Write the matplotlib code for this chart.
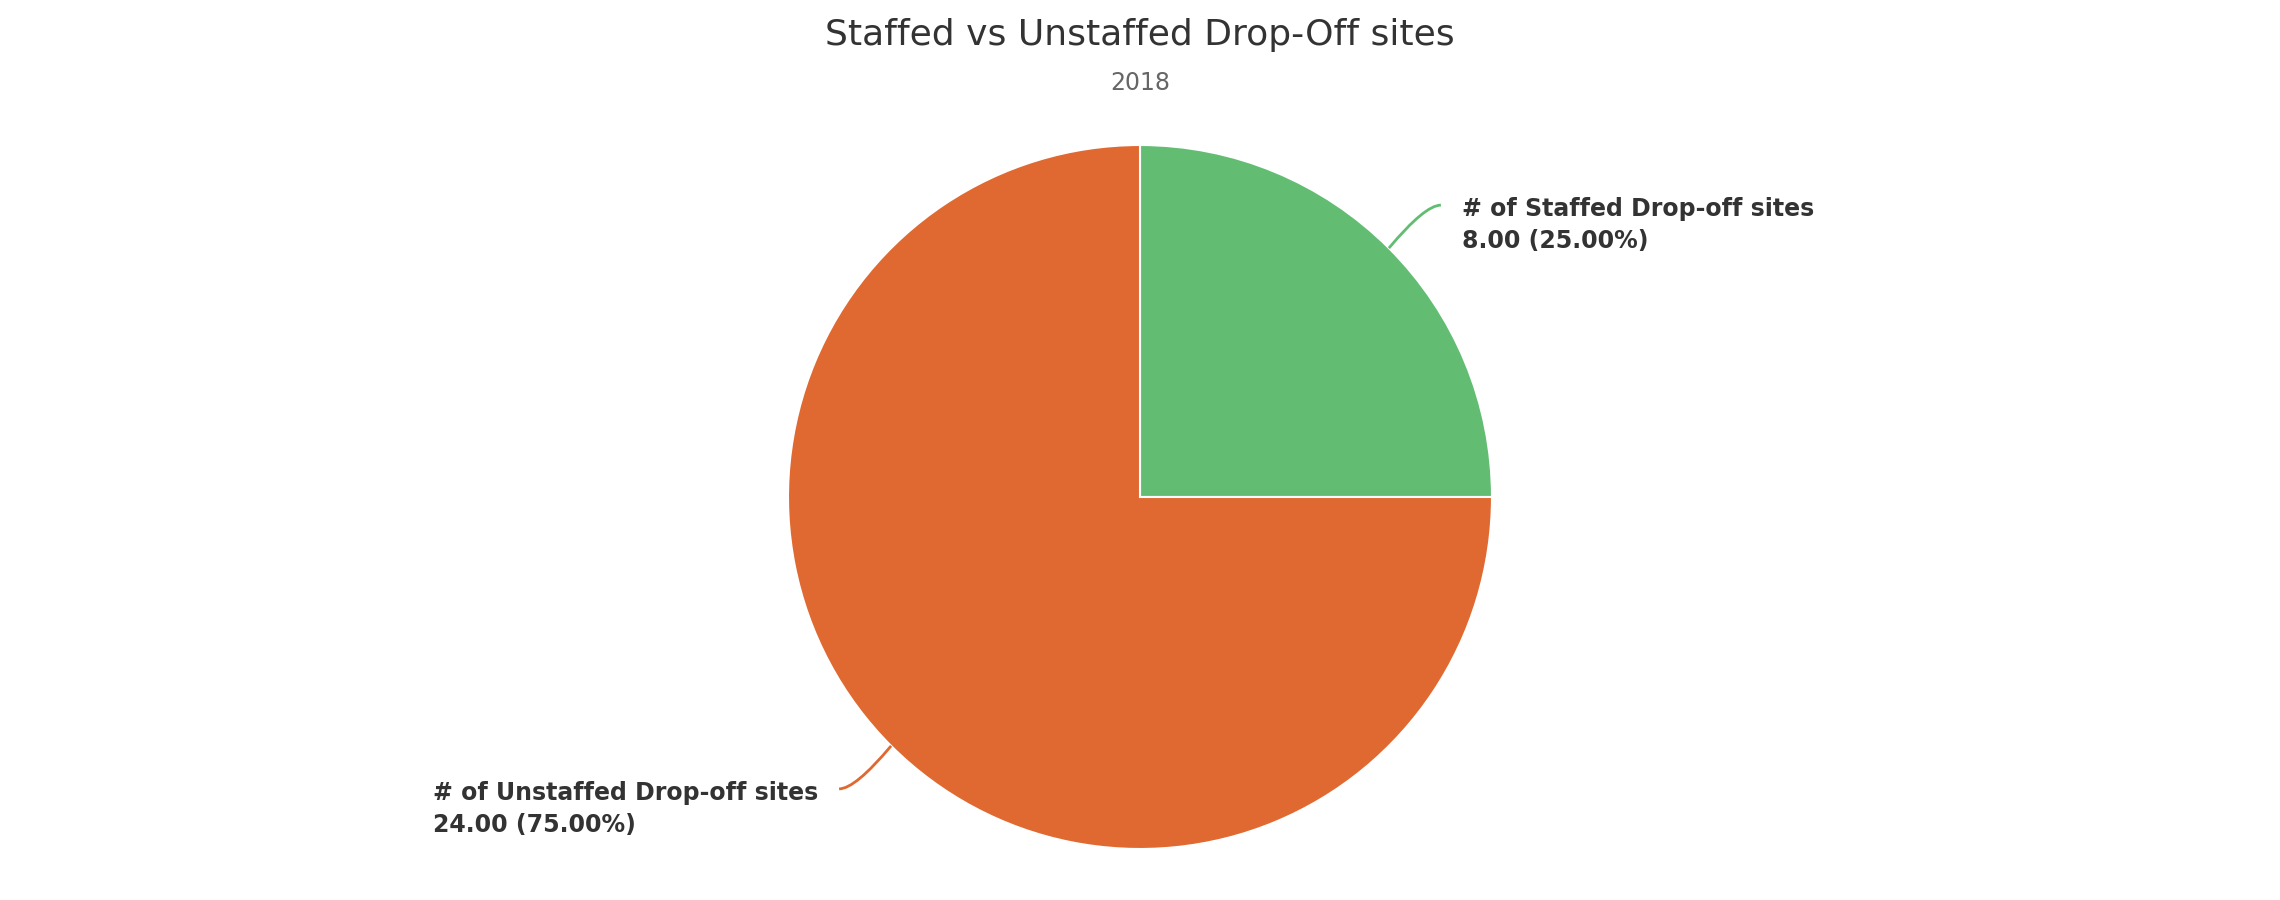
import numpy as np
import matplotlib
matplotlib.use('Agg')
import matplotlib.pyplot as plt
from matplotlib.path import Path
from matplotlib.patches import PathPatch

# chart data
labels = ['# of Staffed Drop-off sites', '# of Unstaffed Drop-off sites']
values = [8, 24]
colors = ['#62BD73', '#E06931']
title = 'Staffed vs Unstaffed Drop-Off sites'
subtitle = '2018'

W, H = 2280, 900
fig = plt.figure(figsize=(W / 100, H / 100), dpi=100)
ax = fig.add_axes([0, 0, 1, 1])

# pie in pixel space (y up)
cx, cy, r = 1140, 403, 352
wedges, _ = ax.pie(values, colors=colors, startangle=90, counterclock=False,
                   center=(cx, cy), radius=r, frame=True,
                   wedgeprops=dict(edgecolor='white', linewidth=1.5))
ax.set_xlim(0, W)
ax.set_ylim(0, H)
ax.set_aspect('equal')
ax.axis('off')

total = sum(values)
for w, lab, val, col in zip(wedges, labels, values, colors):
    mid = np.deg2rad((w.theta1 + w.theta2) / 2)
    sx, sy = cx + r * np.cos(mid), cy + r * np.sin(mid)
    side = 1 if np.cos(mid) >= 0 else -1
    ex, ey = sx + side * 52, sy + np.sign(np.sin(mid)) * 43
    # leader: gentle arc, flattening toward the label
    ctrl = (ex - side * 16, ey)
    path = Path([(sx, sy), ctrl, (ex, ey)], [Path.MOVETO, Path.CURVE3, Path.CURVE3])
    ax.add_patch(PathPatch(path, fill=False, edgecolor=col, linewidth=2))
    txt = f'{lab}\n{val:.2f} ({val / total * 100:.2f}%)'
    ax.text(ex + side * 21, ey - 20, txt, ha='left' if side > 0 else 'right',
            multialignment='left', va='center', fontsize=17, fontweight='bold',
            color='#333333', linespacing=1.42)

fig.text(0.5, 1 - 35 / H, title, ha='center', va='center', fontsize=26, color='#333333')
fig.text(0.5, 1 - 83 / H, subtitle, ha='center', va='center', fontsize=17, color='#666666')

fig.savefig('out.png', dpi=100, facecolor='white')
